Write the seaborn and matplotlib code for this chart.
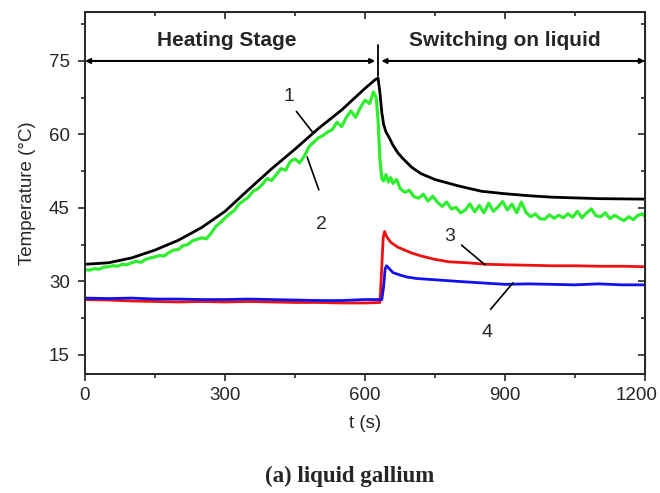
import numpy as np
import pandas as pd
import matplotlib
matplotlib.use("Agg")
import matplotlib.pyplot as plt
import matplotlib.transforms as mtransforms
import seaborn as sns
from matplotlib.ticker import MultipleLocator

# ---- data ----
t_black = [0, 50, 100, 150, 200, 250, 300, 350, 400, 450, 500, 550, 600, 622, 628,
           632, 636, 640, 645, 651, 660, 670, 680, 700, 720, 750, 800, 850, 900,
           950, 1000, 1100, 1200]
T_black = [33.5, 33.8, 34.8, 36.4, 38.4, 41.0, 44.3, 48.7, 53.0, 57.0, 61.2, 65.0,
           69.4, 71.2, 71.5, 68.5, 64.5, 62.0, 60.5, 59.5, 57.8, 56.3, 55.2, 53.3,
           52.0, 50.8, 49.5, 48.4, 47.9, 47.5, 47.2, 46.9, 46.8]

t_green = [0, 10, 20, 30, 40, 50, 60, 70, 80, 90, 100, 110, 120, 130, 140, 150,
           160, 170, 180, 190, 200, 210, 220, 230, 240, 250, 260, 270, 280, 290,
           300, 310, 320, 330, 340, 350, 360, 370, 380, 390, 400, 410, 420, 430,
           440, 450, 460, 470, 480, 490, 500, 510, 520, 530, 540, 550, 560, 570,
           580, 590, 600, 610, 618, 624, 628, 632, 636, 640, 645, 650, 655, 660,
           668, 675, 685, 695, 705, 715, 725, 735, 745, 755, 765, 775, 785, 795,
           805, 815, 825, 835, 845, 855, 865, 875, 885, 895, 905, 915, 925, 935,
           945, 955, 965, 975, 985, 995, 1005, 1015, 1025, 1035, 1045, 1055, 1065,
           1075, 1085, 1095, 1105, 1115, 1125, 1135, 1145, 1155, 1165, 1175, 1185,
           1195, 1200]
T_green = [32.4, 32.3, 32.6, 32.5, 32.9, 33.0, 33.2, 33.1, 33.5, 33.4, 33.8, 34.1,
           33.9, 34.5, 34.8, 35.0, 35.3, 35.2, 35.9, 36.4, 36.5, 37.3, 37.5, 38.3,
           38.6, 38.9, 38.7, 39.8, 41.2, 42.0, 42.9, 43.8, 44.5, 45.8, 46.5, 47.2,
           48.4, 48.9, 49.8, 51.0, 50.6, 51.8, 53.0, 52.7, 54.5, 55.0, 54.2, 55.6,
           57.5, 58.4, 59.3, 59.8, 60.5, 61.0, 62.5, 61.6, 63.5, 64.8, 63.5, 65.5,
           67.0, 66.3, 68.7, 67.5, 63.0, 55.0, 51.0, 50.5, 51.8, 50.3, 51.2, 50.0,
           50.8, 49.0, 48.2, 48.6, 47.3, 47.0, 47.8, 46.4, 47.4, 46.2, 45.3, 46.2,
           44.8, 45.1, 44.0, 44.6, 45.8, 44.2, 45.5, 44.0, 46.0, 44.3, 45.2, 46.3,
           44.6, 45.8, 44.0, 46.2, 44.1, 43.2, 43.8, 42.8, 42.7, 43.6, 42.9, 43.5,
           43.0, 43.8, 43.1, 44.3, 43.0, 44.0, 44.8, 43.4, 43.2, 44.0, 42.8, 43.5,
           42.9, 42.4, 43.2, 42.6, 43.5, 43.8, 43.2]

t_red = [0, 50, 100, 150, 200, 250, 300, 350, 400, 450, 500, 550, 600, 632, 636,
         639, 642, 646, 655, 670, 685, 700, 720, 750, 780, 820, 860, 900, 950, 1000,
         1050, 1100, 1150, 1200]
T_red = [26.3, 26.2, 26.0, 25.9, 25.8, 25.9, 25.8, 25.9, 25.8, 25.7, 25.7, 25.6,
         25.6, 25.7, 33.0, 39.0, 40.2, 39.2, 38.0, 37.0, 36.4, 35.8, 35.2, 34.5,
         34.0, 33.8, 33.5, 33.4, 33.3, 33.2, 33.2, 33.1, 33.1, 33.0]

t_blue = [0, 50, 100, 150, 200, 250, 300, 350, 400, 450, 500, 550, 600, 636, 640,
          643, 646, 652, 660, 675, 690, 710, 740, 770, 800, 850, 900, 950, 1000,
          1050, 1100, 1150, 1200]
T_blue = [26.6, 26.5, 26.6, 26.4, 26.4, 26.3, 26.3, 26.4, 26.3, 26.2, 26.1, 26.1,
          26.3, 26.3, 29.0, 32.5, 33.2, 32.6, 31.8, 31.3, 30.9, 30.6, 30.4, 30.2,
          30.0, 29.7, 29.4, 29.5, 29.4, 29.3, 29.5, 29.3, 29.3]

x_ticks = [0, 300, 600, 900, 1200]
y_ticks = [15, 30, 45, 60, 75]
stage_labels = ["Heating Stage", "Switching on liquid"]
curve_labels = ["1", "2", "3", "4"]

# ---- plotting ----
sns.set_style("ticks")
plt.rcParams['font.family'] = ['Liberation Sans', 'DejaVu Sans']

fig = plt.figure(figsize=(6.6, 4.93), dpi=100)
ax = fig.add_axes([85/660, 1-374/493, (645-85)/660, (374-12)/493])

series = [(t_black, T_black, "#000000", 2.0), (t_green, T_green, "#2fee2f", 2.3),
          (t_red, T_red, "#ee1111", 2.0), (t_blue, T_blue, "#1111ee", 2.0)]
for tt, TT, col, w in series:
    df = pd.DataFrame({"t": tt, "T": TT})
    sns.lineplot(data=df, x="t", y="T", color=col, lw=w, ax=ax, sort=False,
                 estimator=None)

ax.set_xlim(0, 1200)
ax.set_ylim(11.1, 85)
ax.set_xticks(x_ticks)
ax.set_yticks(y_ticks)
ax.xaxis.set_minor_locator(MultipleLocator(150))
ax.yaxis.set_minor_locator(MultipleLocator(7.5))
ax.tick_params(which='both', direction='out', width=1.2, labelsize=13.5,
               top=False, right=False)
ax.tick_params(which='major', length=5, pad=4)
ax.tick_params(axis='y', which='major', pad=6)
ax.tick_params(which='minor', length=3)
for s in ax.spines.values():
    s.set_linewidth(1.4)
# shift last x tick label so it stays inside the figure
last = ax.get_xticklabels()[-1]
last.set_transform(last.get_transform() +
                   mtransforms.ScaledTranslation(-8/100, 0, fig.dpi_scale_trans))

# inward ticks on top/right
axt = ax.secondary_xaxis('top')
axt.set_xticks(x_ticks)
axt.xaxis.set_minor_locator(MultipleLocator(150))
axt.tick_params(which='both', direction='in', labeltop=False, width=1.2)
axt.tick_params(which='major', length=5)
axt.tick_params(which='minor', length=3)
axr = ax.secondary_yaxis('right')
axr.set_yticks(y_ticks)
axr.yaxis.set_minor_locator(MultipleLocator(7.5))
axr.tick_params(which='both', direction='in', labelright=False, width=1.2)
axr.tick_params(which='major', length=5)
axr.tick_params(which='minor', length=3)

ax.set_xlabel("t (s)", fontsize=13.5, labelpad=8)
ax.set_ylabel("Temperature (°C)", fontsize=13.5, labelpad=9)

# stage arrows
arr = dict(arrowstyle='<|-|>', color='black', lw=1.5, mutation_scale=7,
           shrinkA=0, shrinkB=0)
ax.annotate("", xy=(0, 75), xytext=(622, 75), arrowprops=arr)
ax.annotate("", xy=(635, 75), xytext=(1200, 75), arrowprops=arr)
ax.plot([628, 628], [72.0, 78.3], color='black', lw=1.3)
ax.text(304, 79.2, stage_labels[0], ha='center', va='center', fontsize=15,
        fontweight='bold')
ax.text(900, 79.2, stage_labels[1], ha='center', va='center', fontsize=15,
        fontweight='bold')

# curve labels with leader lines
lab_pos = [(437, 67.7), (506, 41.7), (782, 39.1), (861, 19.5)]
leaders = [((453, 64.7), (489, 60.3)), ((501, 48.7), (476, 55.4)),
           ((807, 37.4), (857, 33.4)), ((869, 24.3), (917, 29.7))]
for lbl, (px, py), (p0, p1) in zip(curve_labels, lab_pos, leaders):
    ax.text(px, py, lbl, ha='center', va='center', fontsize=14)
    ax.plot([p0[0], p1[0]], [p0[1], p1[1]], color='black', lw=1.2)

fig.text(350/660, 1-476/493, "(a) liquid gallium", ha='center', va='center',
         fontsize=16.5, fontweight='bold', family=['Liberation Serif', 'DejaVu Serif'])

fig.savefig("out.png", dpi=100)
